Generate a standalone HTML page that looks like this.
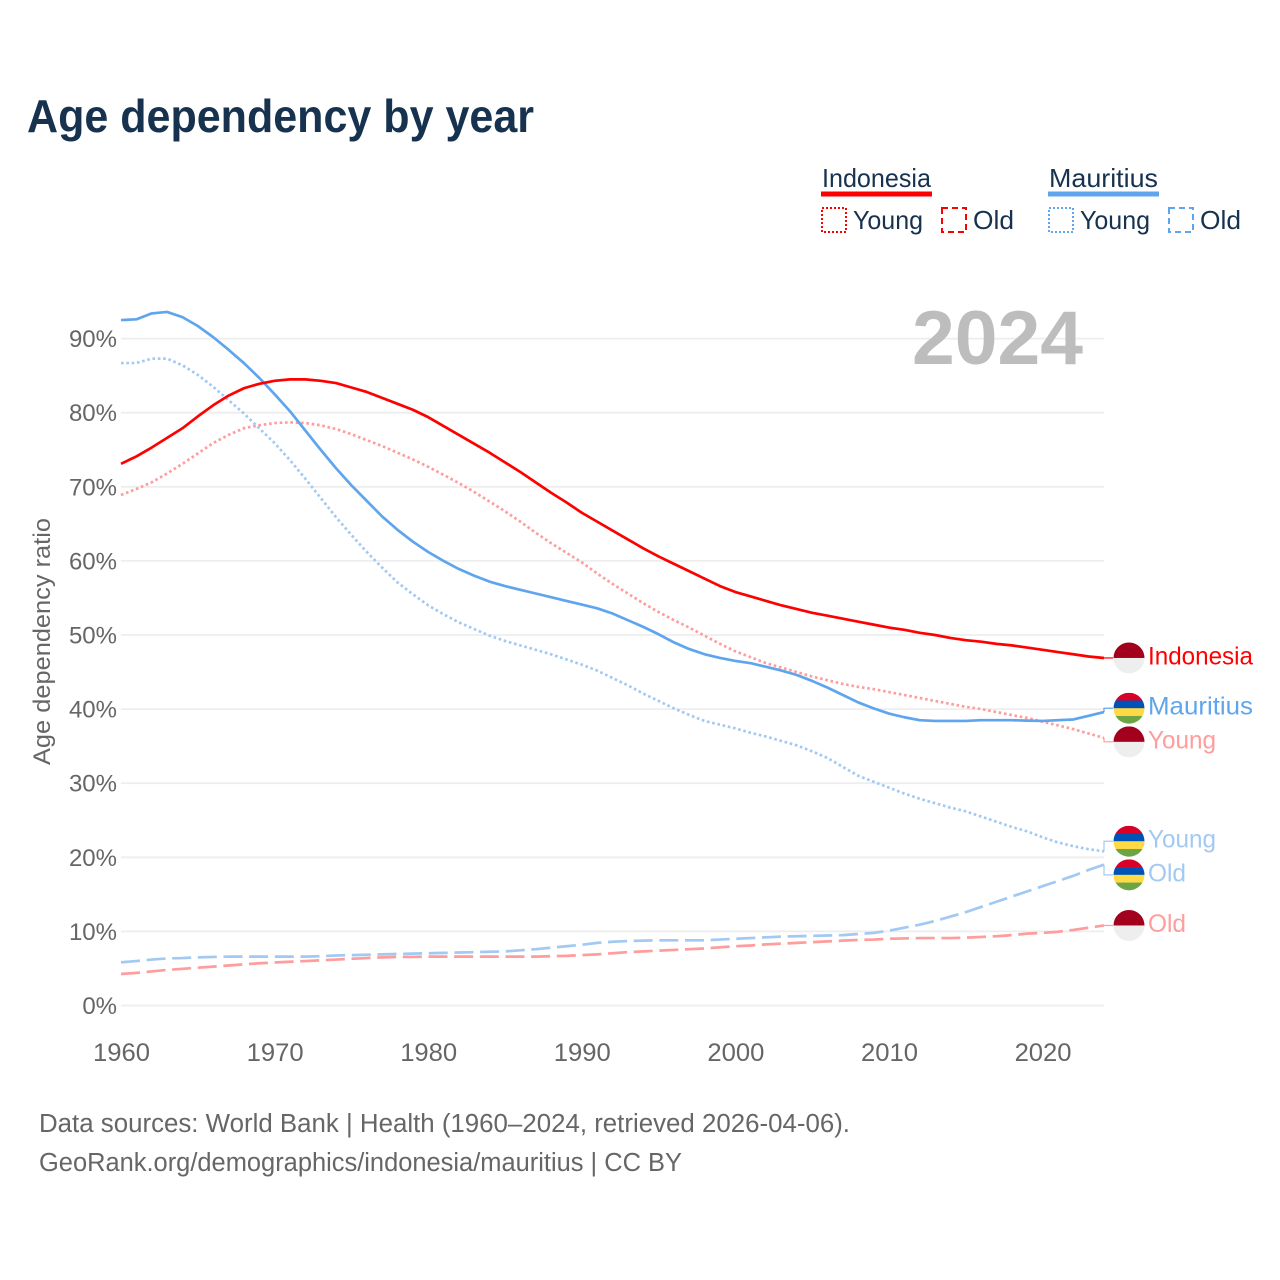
<!DOCTYPE html>
<html lang="en">
<head>
<meta charset="utf-8">
<title>Age dependency by year</title>
<style>
html,body{margin:0;padding:0;background:#fff;width:1280px;height:1280px;overflow:hidden}
svg{display:block;font-family:"Liberation Sans",sans-serif}
</style>
</head>
<body>
<svg id="chart" xmlns="http://www.w3.org/2000/svg" width="1280" height="1280" viewBox="0 0 1280 1280">
  <rect x="0" y="0" width="1280" height="1280" fill="#ffffff"/>
  <text x="27" y="132" font-size="46" font-weight="700" fill="#17324f" textLength="507" lengthAdjust="spacingAndGlyphs">Age dependency by year</text>

  <g font-size="26" fill="#17324f">
    <text x="822" y="187" textLength="109" lengthAdjust="spacingAndGlyphs">Indonesia</text>
    <rect x="821" y="191.5" width="111" height="5" fill="#ff0000"/>
    <rect x="822" y="208" width="24" height="24" fill="none" stroke="#ff0000" stroke-width="2" stroke-dasharray="2 2"/>
    <text x="853" y="229" textLength="70" lengthAdjust="spacingAndGlyphs">Young</text>
    <rect x="942" y="208" width="24" height="24" fill="none" stroke="#ff0000" stroke-width="2" stroke-dasharray="6 4"/>
    <text x="973" y="229" textLength="41" lengthAdjust="spacingAndGlyphs">Old</text>

    <text x="1049" y="187" textLength="109" lengthAdjust="spacingAndGlyphs">Mauritius</text>
    <rect x="1048" y="191.5" width="111" height="5" fill="#5fa5ee"/>
    <rect x="1049" y="208" width="24" height="24" fill="none" stroke="#5fa5ee" stroke-width="2" stroke-dasharray="2 2"/>
    <text x="1080" y="229" textLength="70" lengthAdjust="spacingAndGlyphs">Young</text>
    <rect x="1169" y="208" width="24" height="24" fill="none" stroke="#5fa5ee" stroke-width="2" stroke-dasharray="6 4"/>
    <text x="1200" y="229" textLength="41" lengthAdjust="spacingAndGlyphs">Old</text>
  </g>

  <g id="grid"></g>
  <g id="y-ticks"></g>
  <g id="x-ticks"></g>
  <text transform="translate(50 765) rotate(-90)" font-size="24" fill="#666666" textLength="247" lengthAdjust="spacingAndGlyphs">Age dependency ratio</text>

  <text x="912" y="364" font-size="76" font-weight="700" fill="#bdbdbd" textLength="171" lengthAdjust="spacingAndGlyphs">2024</text>

  <g id="series"></g>
  <g id="end-labels"></g>

  <g font-size="25.5" fill="#666666">
    <text x="39" y="1132" textLength="811" lengthAdjust="spacingAndGlyphs">Data sources: World Bank | Health (1960–2024, retrieved 2026-04-06).</text>
    <text x="39" y="1171" textLength="643" lengthAdjust="spacingAndGlyphs">GeoRank.org/demographics/indonesia/mauritius | CC BY</text>
  </g>
</svg>

<script>
const firstYear = 1960;
const lastYear = 2024;
const yTicks = [0, 10, 20, 30, 40, 50, 60, 70, 80, 90];
const xTicks = [1960, 1970, 1980, 1990, 2000, 2010, 2020];

const indonesiaTotal = [73.1,74.1,75.3,76.6,77.9,79.5,81.0,82.3,83.3,83.9,84.3,84.5,84.5,84.3,84.0,83.4,82.8,82.0,81.2,80.4,79.4,78.2,77.0,75.8,74.6,73.3,72.0,70.6,69.2,67.9,66.5,65.3,64.1,62.9,61.7,60.6,59.6,58.6,57.6,56.6,55.8,55.2,54.6,54.0,53.5,53.0,52.6,52.2,51.8,51.4,51.0,50.7,50.3,50.0,49.6,49.3,49.1,48.8,48.6,48.3,48.0,47.7,47.4,47.1,46.9];
const mauritiusTotal = [92.5,92.6,93.4,93.6,92.9,91.7,90.2,88.5,86.7,84.7,82.5,80.2,77.6,75.0,72.5,70.2,68.1,66.0,64.2,62.6,61.2,60.0,58.9,58.0,57.2,56.6,56.1,55.6,55.1,54.6,54.1,53.6,52.9,52.0,51.1,50.1,49.0,48.1,47.4,46.9,46.5,46.2,45.7,45.2,44.6,43.8,42.9,41.9,40.9,40.1,39.4,38.9,38.5,38.4,38.4,38.4,38.5,38.5,38.5,38.45,38.4,38.5,38.6,39.1,39.6];
const indonesiaYoung = [68.9,69.7,70.6,71.8,73.1,74.5,75.9,77.0,77.9,78.3,78.6,78.7,78.6,78.3,77.8,77.1,76.3,75.5,74.6,73.7,72.7,71.6,70.5,69.3,68.0,66.7,65.3,63.8,62.4,61.1,59.8,58.3,56.9,55.6,54.3,53.1,52.0,51.0,49.9,48.8,47.8,47.0,46.2,45.6,45.0,44.4,43.9,43.4,43.0,42.7,42.3,41.9,41.5,41.1,40.7,40.3,40.0,39.6,39.2,38.8,38.3,37.8,37.3,36.7,36.1];
const mauritiusYoung = [86.7,86.7,87.3,87.3,86.4,85.1,83.5,81.7,79.9,77.9,75.9,73.6,71.1,68.5,65.9,63.5,61.2,59.1,57.1,55.5,54.0,52.8,51.7,50.8,49.9,49.2,48.6,48.0,47.4,46.7,46.0,45.2,44.2,43.2,42.1,41.1,40.1,39.2,38.4,37.9,37.4,36.8,36.3,35.7,35.1,34.3,33.4,32.2,31.0,30.2,29.4,28.6,27.9,27.3,26.7,26.2,25.5,24.8,24.1,23.5,22.7,22.0,21.5,21.1,20.8];
const indonesiaOld = [4.25,4.4,4.6,4.8,4.95,5.1,5.25,5.4,5.55,5.7,5.8,5.9,6.0,6.1,6.2,6.3,6.4,6.5,6.55,6.55,6.6,6.6,6.6,6.6,6.6,6.6,6.6,6.6,6.65,6.7,6.8,6.9,7.05,7.2,7.3,7.4,7.5,7.6,7.7,7.85,8.0,8.1,8.25,8.35,8.45,8.55,8.65,8.75,8.85,8.9,9.0,9.05,9.1,9.1,9.1,9.15,9.25,9.35,9.5,9.7,9.8,9.95,10.2,10.5,10.8];
const mauritiusOld = [5.83,6.0,6.2,6.35,6.4,6.5,6.55,6.6,6.6,6.6,6.6,6.6,6.6,6.65,6.75,6.8,6.85,6.9,6.95,7.0,7.05,7.1,7.15,7.2,7.25,7.3,7.45,7.6,7.8,8.0,8.2,8.45,8.6,8.7,8.75,8.8,8.8,8.8,8.8,8.9,9.0,9.1,9.2,9.3,9.35,9.4,9.45,9.5,9.65,9.8,10.1,10.5,10.9,11.4,12.0,12.6,13.3,14.0,14.7,15.4,16.1,16.8,17.5,18.3,19.0];

const NS = 'http://www.w3.org/2000/svg';
const plotLeft = 121, plotRight = 1104, yZero = 1005.5, pxPerPercent = 7.41;
function xScale(year) { return plotLeft + (year - firstYear) * (plotRight - plotLeft) / (lastYear - firstYear); }
function yScale(value) { return yZero - value * pxPerPercent; }
function make(tag, attrs, parent) {
  const el = document.createElementNS(NS, tag);
  for (const k in attrs) el.setAttribute(k, attrs[k]);
  parent.appendChild(el);
  return el;
}

const gridGroup = document.getElementById('grid');
const yTickGroup = document.getElementById('y-ticks');
yTicks.forEach(function (v) {
  const line = make('line', { x1: plotLeft, x2: plotRight, y1: yScale(v), y2: yScale(v), stroke: '#eeeeee', 'stroke-width': 1.8 }, gridGroup);
  
  
  const label = make('text', { x: 117, y: yScale(v) + 8.5, 'text-anchor': 'end', 'font-size': 24, fill: '#666666' }, yTickGroup);
  label.textContent = v + '%';
  
  
});

const xTickGroup = document.getElementById('x-ticks');
xTicks.forEach(function (year) {
  const label = make('text', { x: xScale(year) + 0.5, y: 1061, 'text-anchor': 'middle', 'font-size': 25, fill: '#666666', textLength: 57, lengthAdjust: 'spacingAndGlyphs' }, xTickGroup);
  label.textContent = String(year);
  
  
});

const RED = '#ff0000', RED_LIGHT = '#ff9c9c', BLUE = '#5fa5ee', BLUE_LIGHT = '#a2c9f3';
const DOTTED = '2.6 2.75', DASHED = '19 6.67';
const seriesList = [
  { key: 'indonesia-old', values: indonesiaOld, color: RED_LIGHT, dash: DASHED, label: 'Old', flag: 'id', width: 38 },
  { key: 'mauritius-old', values: mauritiusOld, color: BLUE_LIGHT, dash: DASHED, label: 'Old', flag: 'mu', width: 38 },
  { key: 'mauritius-young', values: mauritiusYoung, color: BLUE_LIGHT, dash: DOTTED, label: 'Young', flag: 'mu', width: 68 },
  { key: 'indonesia-young', values: indonesiaYoung, color: RED_LIGHT, dash: DOTTED, label: 'Young', flag: 'id', width: 68 },
  { key: 'mauritius-total', values: mauritiusTotal, color: BLUE, dash: '', label: 'Mauritius', flag: 'mu', width: 105 },
  { key: 'indonesia-total', values: indonesiaTotal, color: RED, dash: '', label: 'Indonesia', flag: 'id', width: 105 }
];

const seriesGroup = document.getElementById('series');
seriesList.forEach(function (s) {
  const pts = s.values.map(function (v, i) { return xScale(firstYear + i).toFixed(2) + ',' + yScale(v).toFixed(2); });
  const line = make('polyline', { points: pts.join(' '), fill: 'none', stroke: s.color, 'stroke-width': 2.7, 'stroke-linejoin': 'round' }, seriesGroup);
  if (s.dash) line.setAttribute('stroke-dasharray', s.dash);
  
  
});

/* End labels: start at the last value and push neighbours apart */
const minGap = 33.6;
const placed = seriesList.map(function (s) {
  const y = yScale(s.values[s.values.length - 1]);
  return { s: s, end: y, y: y };
}).sort(function (a, b) { return a.y - b.y; });
for (let iter = 0; iter < 40; iter++) {
  for (let i = 1; i < placed.length; i++) {
    const gap = placed[i].y - placed[i - 1].y;
    if (gap < minGap) {
      const push = (minGap - gap) / 2;
      placed[i - 1].y -= push;
      placed[i].y += push;
    }
  }
}

const labelGroup = document.getElementById('end-labels');
const defs = make('defs', {}, labelGroup);
const flagClip = make('clipPath', { id: 'flag-clip' }, defs);
make('circle', { cx: 0, cy: 0, r: 15.5 }, flagClip);
const flagColors = {
  id: ['#a2001d', '#eeeeee'],
  mu: ['#d80027', '#0052b4', '#ffda44', '#6da544']
};

placed.forEach(function (p) {
  const leader = make('polyline', {
    points: plotRight + ',' + p.end.toFixed(2) + ' ' + plotRight + ',' + p.y.toFixed(2) + ' 1113,' + p.y.toFixed(2),
    fill: 'none', stroke: p.s.color, 'stroke-width': 1.2
  }, labelGroup);
  
  

  const flag = make('g', { transform: 'translate(1129 ' + p.y.toFixed(2) + ')', 'clip-path': 'url(#flag-clip)' }, labelGroup);
  
  
  const bands = flagColors[p.s.flag];
  bands.forEach(function (c, i) {
    const h = 31 / bands.length;
    make('rect', { x: -16, y: -15.5 + i * h, width: 32, height: h + 0.2, fill: c }, flag);
  });

  const text = make('text', { x: 1148, y: p.y + 6.5, 'font-size': 25, fill: p.s.color, textLength: p.s.width, lengthAdjust: 'spacingAndGlyphs' }, labelGroup);
  text.textContent = p.s.label;
  
  
});
</script>
</body>
</html>
